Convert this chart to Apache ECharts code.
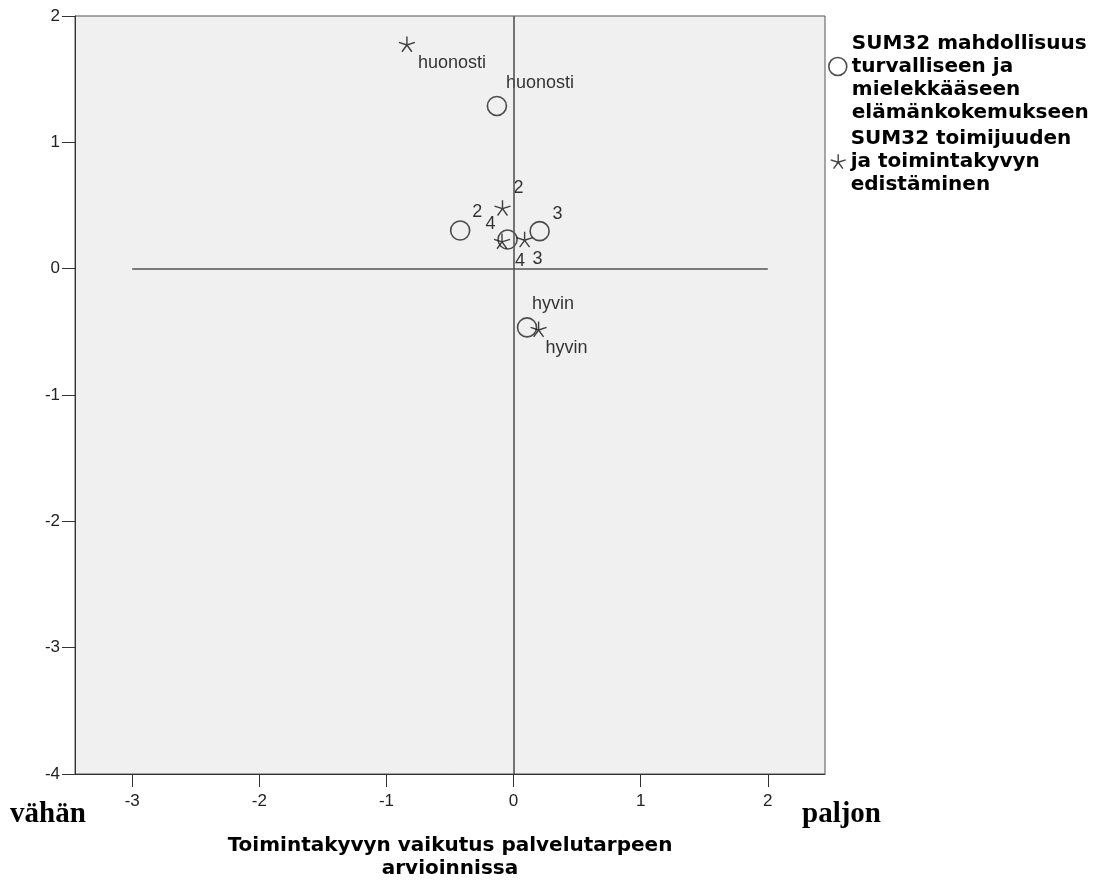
<!DOCTYPE html>
<html>
<head>
<meta charset="utf-8">
<title>Toimintakyvyn vaikutus palvelutarpeen arvioinnissa</title>
<script src="https://cdn.jsdelivr.net/npm/echarts@6.0.0/dist/echarts.min.js"></script>
<style>
	html, body { margin: 0; padding: 0; background: #fff; }
	#chart { width: 1103px; height: 885px; }
</style>
</head>
<body>
<div id="chart"></div>
<script>
// ympyrät: SUM32 mahdollisuus turvalliseen ja mielekkääseen elämänkokemukseen
var circleNames = ["huonosti", "2", "4", "3", "hyvin"];
var circleX = [-0.131, -0.420, -0.047, 0.205, 0.106];
var circleY = [1.288, 0.302, 0.231, 0.297, -0.465];
// tähdet: SUM32 toimijuuden ja toimintakyvyn edistäminen
var starNames = ["huonosti", "2", "4", "3", "hyvin"];
var starX = [-0.839, -0.087, -0.091, 0.087, 0.197];
var starY = [1.777, 0.481, 0.218, 0.231, -0.479];
// akselit
var xTicks = [-3, -2, -1, 0, 1, 2];
var xRange = [-3.45, 2.45];
var yRange = [-4, 2];
var refLineX = [-3, 2]; // vaakaviiva y=0
var seriesNames = [
	"SUM32 mahdollisuus turvalliseen ja mielekkääseen elämänkokemukseen",
	"SUM32 toimijuuden ja toimintakyvyn edistäminen"
];

// tekstien paikat pisteen suhteen (px)
var circleLabelOffsets = [[43, -23], [17, -18], [-17, -15], [18, -17], [26, -23]];
var starLabelOffsets = [[45, 19], [16, -20], [18, 20], [13, 20], [28, 19]];

var starPath = "path://M0,0L0,-10M0,0L9.51,-3.09M0,0L5.88,8.09M0,0L-5.88,8.09M0,0L-9.51,-3.09";
var labelFont = "Liberation Sans";
var boldFont = "DejaVu Sans";

function buildData(xs, ys, names, offsets) {
	var out = [];
	for (var i = 0; i < xs.length; i++) {
		out.push({
			value: [xs[i], ys[i]],
			name: names[i],
			label: { offset: offsets[i] }
		});
	}
	return out;
}

var myChart = echarts.init(document.getElementById("chart"));
var option = {
	animation: false,
	backgroundColor: "#fff",
	grid: {
		left: 75, top: 16, right: 278, bottom: 108,
		show: true,
		backgroundColor: "#f0f0f0",
		borderColor: "#555",
		borderWidth: 1
	},
	legend: [{
		data: [{
			name: seriesNames[0],
			icon: "circle",
			itemStyle: { color: "rgba(0,0,0,0)", borderColor: "#222", borderWidth: 1.6 }
		}],
		left: 828, top: 9, padding: 0,
		itemWidth: 18, itemHeight: 18,
		formatter: function() {
			return "\nSUM32 mahdollisuus\nturvalliseen ja\nmielekkääseen\nelämänkokemukseen";
		},
		textStyle: { fontFamily: boldFont, fontWeight: "bold", fontSize: 20, lineHeight: 23, color: "#000" }
	}, {
		data: [{
			name: seriesNames[1],
			icon: starPath,
			itemStyle: { color: "rgba(0,0,0,0)", borderColor: "#111", borderWidth: 1.4 }
		}],
		left: 830, top: 127, padding: 0,
		itemWidth: 15, itemHeight: 15,
		formatter: function() {
			return "SUM32 toimijuuden\nja toimintakyvyn\nedistäminen";
		},
		textStyle: { fontFamily: boldFont, fontWeight: "bold", fontSize: 20, lineHeight: 23, color: "#000" }
	}],
	xAxis: {
		type: "value",
		min: xRange[0],
		max: xRange[1],
		splitLine: { show: false },
		axisLine: { onZero: false, lineStyle: { color: "#333", width: 1 } },
		axisTick: { show: true, length: 13, customValues: xTicks, lineStyle: { color: "#333" } },
		axisLabel: {
			customValues: xTicks,
			margin: 19,
			fontFamily: labelFont, fontSize: 17, color: "#222"
		},
		name: "Toimintakyvyn vaikutus palvelutarpeen\narvioinnissa",
		nameLocation: "middle",
		nameGap: 60,
		nameTextStyle: {
			fontFamily: boldFont, fontWeight: "bold", fontSize: 20, lineHeight: 23,
			color: "#000", verticalAlign: "top"
		}
	},
	yAxis: {
		type: "value",
		min: yRange[0],
		max: yRange[1],
		interval: 1,
		splitLine: { show: false },
		axisLine: { onZero: false, lineStyle: { color: "#333", width: 1 } },
		axisTick: { show: true, length: 13, lineStyle: { color: "#333" } },
		axisLabel: { margin: 15, fontFamily: labelFont, fontSize: 17, color: "#222" }
	},
	graphic: [{
		type: "text", left: 10, top: 800,
		style: { text: "vähän", font: "bold 29px 'Liberation Serif'", fill: "#000" }
	}, {
		type: "text", left: 802, top: 800,
		style: { text: "paljon", font: "bold 29px 'Liberation Serif'", fill: "#000" }
	}],
	series: [{
		name: seriesNames[0],
		type: "scatter",
		symbol: "circle",
		symbolSize: 19,
		itemStyle: { color: "rgba(0,0,0,0)", borderColor: "#222", borderWidth: 1.6 },
		label: {
			show: true, position: "inside",
			formatter: "{b}",
			fontFamily: labelFont, fontSize: 18, color: "#000",
			textBorderWidth: 0
		},
		emphasis: { disabled: true },
		data: buildData(circleX, circleY, circleNames, circleLabelOffsets),
		markLine: {
			silent: true,
			symbol: "none",
			label: { show: false },
			lineStyle: { color: "#555", width: 1.6, type: "solid" },
			data: [
				[{ coord: [refLineX[0], 0] }, { coord: [refLineX[1], 0] }],
				[{ coord: [0, yRange[0]] }, { coord: [0, yRange[1]] }]
			]
		}
	}, {
		name: seriesNames[1],
		type: "scatter",
		symbol: starPath,
		symbolKeepAspect: true,
		symbolSize: 16,
		itemStyle: { color: "rgba(0,0,0,0)", borderColor: "#111", borderWidth: 1.4 },
		label: {
			show: true, position: "inside",
			formatter: "{b}",
			fontFamily: labelFont, fontSize: 18, color: "#000",
			textBorderWidth: 0
		},
		emphasis: { disabled: true },
		data: buildData(starX, starY, starNames, starLabelOffsets)
	}]
};
myChart.setOption(option);
window.addEventListener("resize", function() {
	myChart.resize();
});
</script>
</body>
</html>
